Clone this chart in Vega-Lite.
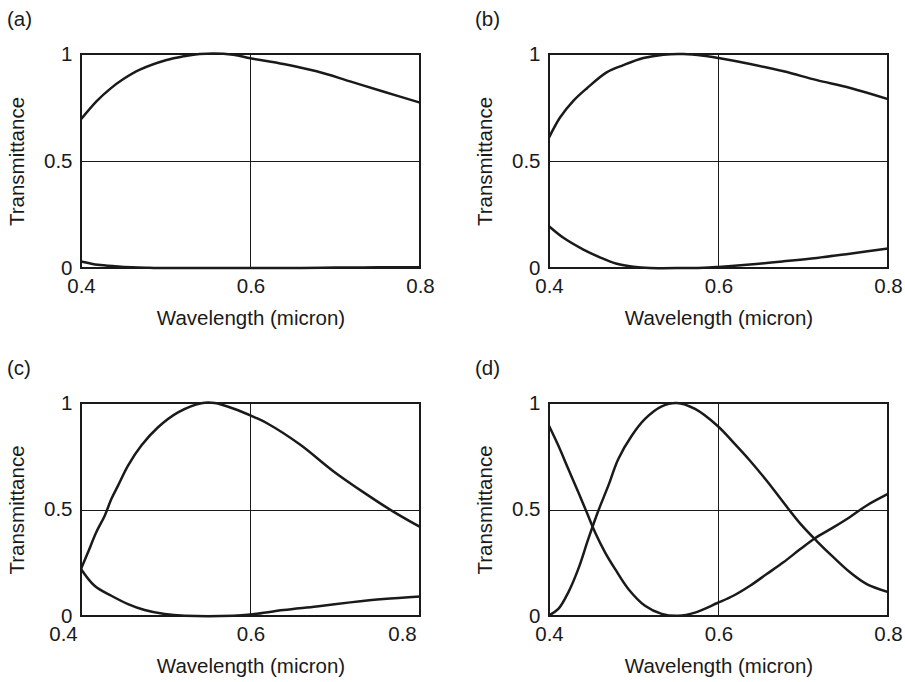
{
  "$schema": "https://vega.github.io/schema/vega-lite/v6.json",
  "padding": {"left": 6, "top": 8, "right": 5, "bottom": 5},
  "config": {
    "font": "Liberation Sans",
    "view": {"stroke": "#1a1a1a", "strokeWidth": 2},
    "axis": {
      "domain": false, "ticks": false, "tickSize": 0,
      "grid": true, "gridColor": "#1a1a1a", "gridOpacity": 1, "gridWidth": 1,
      "labelFontSize": 20.5, "titleFontSize": 20.5, "labelColor": "#1a1a1a", "titleColor": "#1a1a1a",
      "titleFontWeight": "normal", "labelFlush": false, "format": "~g"
    },
    "axisX": {"labelPadding": 8, "titlePadding": 12},
    "axisY": {"labelPadding": 9, "titlePadding": 16},
    "title": {"fontSize": 20.5, "fontWeight": "normal", "anchor": "start", "dx": -74, "offset": 14, "color": "#1a1a1a", "frame": "group"},
    "line": {"color": "#1a1a1a", "strokeWidth": 2.5, "interpolate": "catmull-rom"}
  },
  "datasets": {
    "curves": [
      {"panel": "a", "series": "T", "x": 0.400, "y": 0.695},
      {"panel": "a", "series": "T", "x": 0.4185, "y": 0.780},
      {"panel": "a", "series": "T", "x": 0.434, "y": 0.836},
      {"panel": "a", "series": "T", "x": 0.450, "y": 0.883},
      {"panel": "a", "series": "T", "x": 0.4695, "y": 0.927},
      {"panel": "a", "series": "T", "x": 0.501, "y": 0.972},
      {"panel": "a", "series": "T", "x": 0.5206, "y": 0.989},
      {"panel": "a", "series": "T", "x": 0.540, "y": 1.000},
      {"panel": "a", "series": "T", "x": 0.5796, "y": 0.997},
      {"panel": "a", "series": "T", "x": 0.600, "y": 0.980},
      {"panel": "a", "series": "T", "x": 0.639, "y": 0.953},
      {"panel": "a", "series": "T", "x": 0.678, "y": 0.919},
      {"panel": "a", "series": "T", "x": 0.7175, "y": 0.872},
      {"panel": "a", "series": "T", "x": 0.7564, "y": 0.825},
      {"panel": "a", "series": "T", "x": 0.800, "y": 0.773},
      {"panel": "a", "series": "R", "x": 0.400, "y": 0.030},
      {"panel": "a", "series": "R", "x": 0.410, "y": 0.022},
      {"panel": "a", "series": "R", "x": 0.420, "y": 0.015},
      {"panel": "a", "series": "R", "x": 0.440, "y": 0.008},
      {"panel": "a", "series": "R", "x": 0.460, "y": 0.003},
      {"panel": "a", "series": "R", "x": 0.480, "y": 0.001},
      {"panel": "a", "series": "R", "x": 0.500, "y": 0.000},
      {"panel": "a", "series": "R", "x": 0.560, "y": 0.000},
      {"panel": "a", "series": "R", "x": 0.660, "y": 0.000},
      {"panel": "a", "series": "R", "x": 0.700, "y": 0.002},
      {"panel": "a", "series": "R", "x": 0.750, "y": 0.003},
      {"panel": "a", "series": "R", "x": 0.800, "y": 0.004},

      {"panel": "b", "series": "T", "x": 0.400, "y": 0.609},
      {"panel": "b", "series": "T", "x": 0.413, "y": 0.703},
      {"panel": "b", "series": "T", "x": 0.4287, "y": 0.781},
      {"panel": "b", "series": "T", "x": 0.4445, "y": 0.839},
      {"panel": "b", "series": "T", "x": 0.468, "y": 0.914},
      {"panel": "b", "series": "T", "x": 0.4878, "y": 0.948},
      {"panel": "b", "series": "T", "x": 0.5114, "y": 0.981},
      {"panel": "b", "series": "T", "x": 0.535, "y": 0.997},
      {"panel": "b", "series": "T", "x": 0.5587, "y": 1.000},
      {"panel": "b", "series": "T", "x": 0.5823, "y": 0.992},
      {"panel": "b", "series": "T", "x": 0.600, "y": 0.981},
      {"panel": "b", "series": "T", "x": 0.6374, "y": 0.953},
      {"panel": "b", "series": "T", "x": 0.6768, "y": 0.919},
      {"panel": "b", "series": "T", "x": 0.7161, "y": 0.878},
      {"panel": "b", "series": "T", "x": 0.7555, "y": 0.841},
      {"panel": "b", "series": "T", "x": 0.800, "y": 0.789},
      {"panel": "b", "series": "R", "x": 0.400, "y": 0.195},
      {"panel": "b", "series": "R", "x": 0.417, "y": 0.141},
      {"panel": "b", "series": "R", "x": 0.4406, "y": 0.086},
      {"panel": "b", "series": "R", "x": 0.460, "y": 0.050},
      {"panel": "b", "series": "R", "x": 0.480, "y": 0.020},
      {"panel": "b", "series": "R", "x": 0.4996, "y": 0.006},
      {"panel": "b", "series": "R", "x": 0.519, "y": 0.000},
      {"panel": "b", "series": "R", "x": 0.560, "y": 0.000},
      {"panel": "b", "series": "R", "x": 0.5823, "y": 0.001},
      {"panel": "b", "series": "R", "x": 0.600, "y": 0.005},
      {"panel": "b", "series": "R", "x": 0.637, "y": 0.016},
      {"panel": "b", "series": "R", "x": 0.677, "y": 0.031},
      {"panel": "b", "series": "R", "x": 0.716, "y": 0.047},
      {"panel": "b", "series": "R", "x": 0.755, "y": 0.067},
      {"panel": "b", "series": "R", "x": 0.800, "y": 0.091},

      {"panel": "c", "series": "T", "x": 0.400, "y": 0.221},
      {"panel": "c", "series": "T", "x": 0.4083, "y": 0.299},
      {"panel": "c", "series": "T", "x": 0.418, "y": 0.393},
      {"panel": "c", "series": "T", "x": 0.428, "y": 0.471},
      {"panel": "c", "series": "T", "x": 0.4358, "y": 0.549},
      {"panel": "c", "series": "T", "x": 0.4437, "y": 0.612},
      {"panel": "c", "series": "T", "x": 0.4555, "y": 0.706},
      {"panel": "c", "series": "T", "x": 0.4712, "y": 0.800},
      {"panel": "c", "series": "T", "x": 0.4909, "y": 0.886},
      {"panel": "c", "series": "T", "x": 0.5145, "y": 0.956},
      {"panel": "c", "series": "T", "x": 0.542, "y": 0.999},
      {"panel": "c", "series": "T", "x": 0.5577, "y": 1.000},
      {"panel": "c", "series": "T", "x": 0.5813, "y": 0.972},
      {"panel": "c", "series": "T", "x": 0.605, "y": 0.933},
      {"panel": "c", "series": "T", "x": 0.619, "y": 0.906},
      {"panel": "c", "series": "T", "x": 0.6584, "y": 0.805},
      {"panel": "c", "series": "T", "x": 0.6977, "y": 0.680},
      {"panel": "c", "series": "T", "x": 0.737, "y": 0.571},
      {"panel": "c", "series": "T", "x": 0.7685, "y": 0.490},
      {"panel": "c", "series": "T", "x": 0.800, "y": 0.418},
      {"panel": "c", "series": "R", "x": 0.400, "y": 0.221},
      {"panel": "c", "series": "R", "x": 0.416, "y": 0.142},
      {"panel": "c", "series": "R", "x": 0.4358, "y": 0.095},
      {"panel": "c", "series": "R", "x": 0.4555, "y": 0.056},
      {"panel": "c", "series": "R", "x": 0.4751, "y": 0.028},
      {"panel": "c", "series": "R", "x": 0.4987, "y": 0.009},
      {"panel": "c", "series": "R", "x": 0.5224, "y": 0.001},
      {"panel": "c", "series": "R", "x": 0.5797, "y": 0.001},
      {"panel": "c", "series": "R", "x": 0.600, "y": 0.007},
      {"panel": "c", "series": "R", "x": 0.639, "y": 0.028},
      {"panel": "c", "series": "R", "x": 0.678, "y": 0.045},
      {"panel": "c", "series": "R", "x": 0.7177, "y": 0.064},
      {"panel": "c", "series": "R", "x": 0.757, "y": 0.080},
      {"panel": "c", "series": "R", "x": 0.800, "y": 0.092},

      {"panel": "d", "series": "T", "x": 0.400, "y": 0.003},
      {"panel": "d", "series": "T", "x": 0.411, "y": 0.033},
      {"panel": "d", "series": "T", "x": 0.4228, "y": 0.111},
      {"panel": "d", "series": "T", "x": 0.4346, "y": 0.221},
      {"panel": "d", "series": "T", "x": 0.4464, "y": 0.362},
      {"panel": "d", "series": "T", "x": 0.4582, "y": 0.494},
      {"panel": "d", "series": "T", "x": 0.470, "y": 0.612},
      {"panel": "d", "series": "T", "x": 0.4818, "y": 0.737},
      {"panel": "d", "series": "T", "x": 0.4976, "y": 0.846},
      {"panel": "d", "series": "T", "x": 0.5133, "y": 0.925},
      {"panel": "d", "series": "T", "x": 0.533, "y": 0.984},
      {"panel": "d", "series": "T", "x": 0.5507, "y": 1.000},
      {"panel": "d", "series": "T", "x": 0.5723, "y": 0.972},
      {"panel": "d", "series": "T", "x": 0.5987, "y": 0.893},
      {"panel": "d", "series": "T", "x": 0.6175, "y": 0.815},
      {"panel": "d", "series": "T", "x": 0.6372, "y": 0.729},
      {"panel": "d", "series": "T", "x": 0.6569, "y": 0.635},
      {"panel": "d", "series": "T", "x": 0.6765, "y": 0.534},
      {"panel": "d", "series": "T", "x": 0.6962, "y": 0.435},
      {"panel": "d", "series": "T", "x": 0.7159, "y": 0.352},
      {"panel": "d", "series": "T", "x": 0.7355, "y": 0.276},
      {"panel": "d", "series": "T", "x": 0.7552, "y": 0.205},
      {"panel": "d", "series": "T", "x": 0.7749, "y": 0.150},
      {"panel": "d", "series": "T", "x": 0.800, "y": 0.113},
      {"panel": "d", "series": "R", "x": 0.400, "y": 0.893},
      {"panel": "d", "series": "R", "x": 0.411, "y": 0.800},
      {"panel": "d", "series": "R", "x": 0.4228, "y": 0.690},
      {"panel": "d", "series": "R", "x": 0.4346, "y": 0.581},
      {"panel": "d", "series": "R", "x": 0.4445, "y": 0.487},
      {"panel": "d", "series": "R", "x": 0.4543, "y": 0.393},
      {"panel": "d", "series": "R", "x": 0.4661, "y": 0.299},
      {"panel": "d", "series": "R", "x": 0.4779, "y": 0.221},
      {"panel": "d", "series": "R", "x": 0.4936, "y": 0.127},
      {"panel": "d", "series": "R", "x": 0.5133, "y": 0.048},
      {"panel": "d", "series": "R", "x": 0.533, "y": 0.010},
      {"panel": "d", "series": "R", "x": 0.5526, "y": 0.001},
      {"panel": "d", "series": "R", "x": 0.5723, "y": 0.016},
      {"panel": "d", "series": "R", "x": 0.5987, "y": 0.061},
      {"panel": "d", "series": "R", "x": 0.6175, "y": 0.095},
      {"panel": "d", "series": "R", "x": 0.6372, "y": 0.142},
      {"panel": "d", "series": "R", "x": 0.6569, "y": 0.197},
      {"panel": "d", "series": "R", "x": 0.6765, "y": 0.252},
      {"panel": "d", "series": "R", "x": 0.6962, "y": 0.313},
      {"panel": "d", "series": "R", "x": 0.7139, "y": 0.365},
      {"panel": "d", "series": "R", "x": 0.7355, "y": 0.416},
      {"panel": "d", "series": "R", "x": 0.7552, "y": 0.465},
      {"panel": "d", "series": "R", "x": 0.7749, "y": 0.519},
      {"panel": "d", "series": "R", "x": 0.800, "y": 0.573}
    ]
  },
  "columns": 2,
  "bounds": "flush",
  "spacing": {"row": 135, "column": 129},
  "concat": [
    {
      "title": "(a)",
      "width": 339, "height": 214,
      "data": {"name": "curves"},
      "transform": [{"filter": "datum.panel === 'a'"}],
      "mark": {"type": "line"},
      "encoding": {
        "x": {"field": "x", "type": "quantitative", "title": "Wavelength (micron)", "scale": {"domain": [0.4, 0.8], "nice": false, "zero": false}, "axis": {"values": [0.4, 0.6, 0.8]}},
        "y": {"field": "y", "type": "quantitative", "title": "Transmittance", "scale": {"domain": [0, 1], "nice": false}, "axis": {"values": [0, 0.5, 1]}},
        "detail": {"field": "series"}
      }
    },
    {
      "title": "(b)",
      "width": 339, "height": 214,
      "data": {"name": "curves"},
      "transform": [{"filter": "datum.panel === 'b'"}],
      "mark": {"type": "line"},
      "encoding": {
        "x": {"field": "x", "type": "quantitative", "title": "Wavelength (micron)", "scale": {"domain": [0.4, 0.8], "nice": false, "zero": false}, "axis": {"values": [0.4, 0.6, 0.8]}},
        "y": {"field": "y", "type": "quantitative", "title": "Transmittance", "scale": {"domain": [0, 1], "nice": false}, "axis": {"values": [0, 0.5, 1]}},
        "detail": {"field": "series"}
      }
    },
    {
      "title": "(c)",
      "width": 339, "height": 213,
      "data": {"name": "curves"},
      "transform": [{"filter": "datum.panel === 'c'"}],
      "mark": {"type": "line"},
      "encoding": {
        "x": {"field": "x", "type": "quantitative", "title": "Wavelength (micron)", "scale": {"domain": [0.4, 0.8], "nice": false, "zero": false}, "axis": {"values": [0.4, 0.6, 0.8], "labelOffset": {"condition": {"test": "datum.value > 0.59 && datum.value < 0.61", "value": 0}, "value": -18}}},
        "y": {"field": "y", "type": "quantitative", "title": "Transmittance", "scale": {"domain": [0, 1], "nice": false}, "axis": {"values": [0, 0.5, 1]}},
        "detail": {"field": "series"}
      }
    },
    {
      "title": "(d)",
      "width": 339, "height": 213,
      "data": {"name": "curves"},
      "transform": [{"filter": "datum.panel === 'd'"}],
      "mark": {"type": "line"},
      "encoding": {
        "x": {"field": "x", "type": "quantitative", "title": "Wavelength (micron)", "scale": {"domain": [0.4, 0.8], "nice": false, "zero": false}, "axis": {"values": [0.4, 0.6, 0.8]}},
        "y": {"field": "y", "type": "quantitative", "title": "Transmittance", "scale": {"domain": [0, 1], "nice": false}, "axis": {"values": [0, 0.5, 1]}},
        "detail": {"field": "series"}
      }
    }
  ]
}
